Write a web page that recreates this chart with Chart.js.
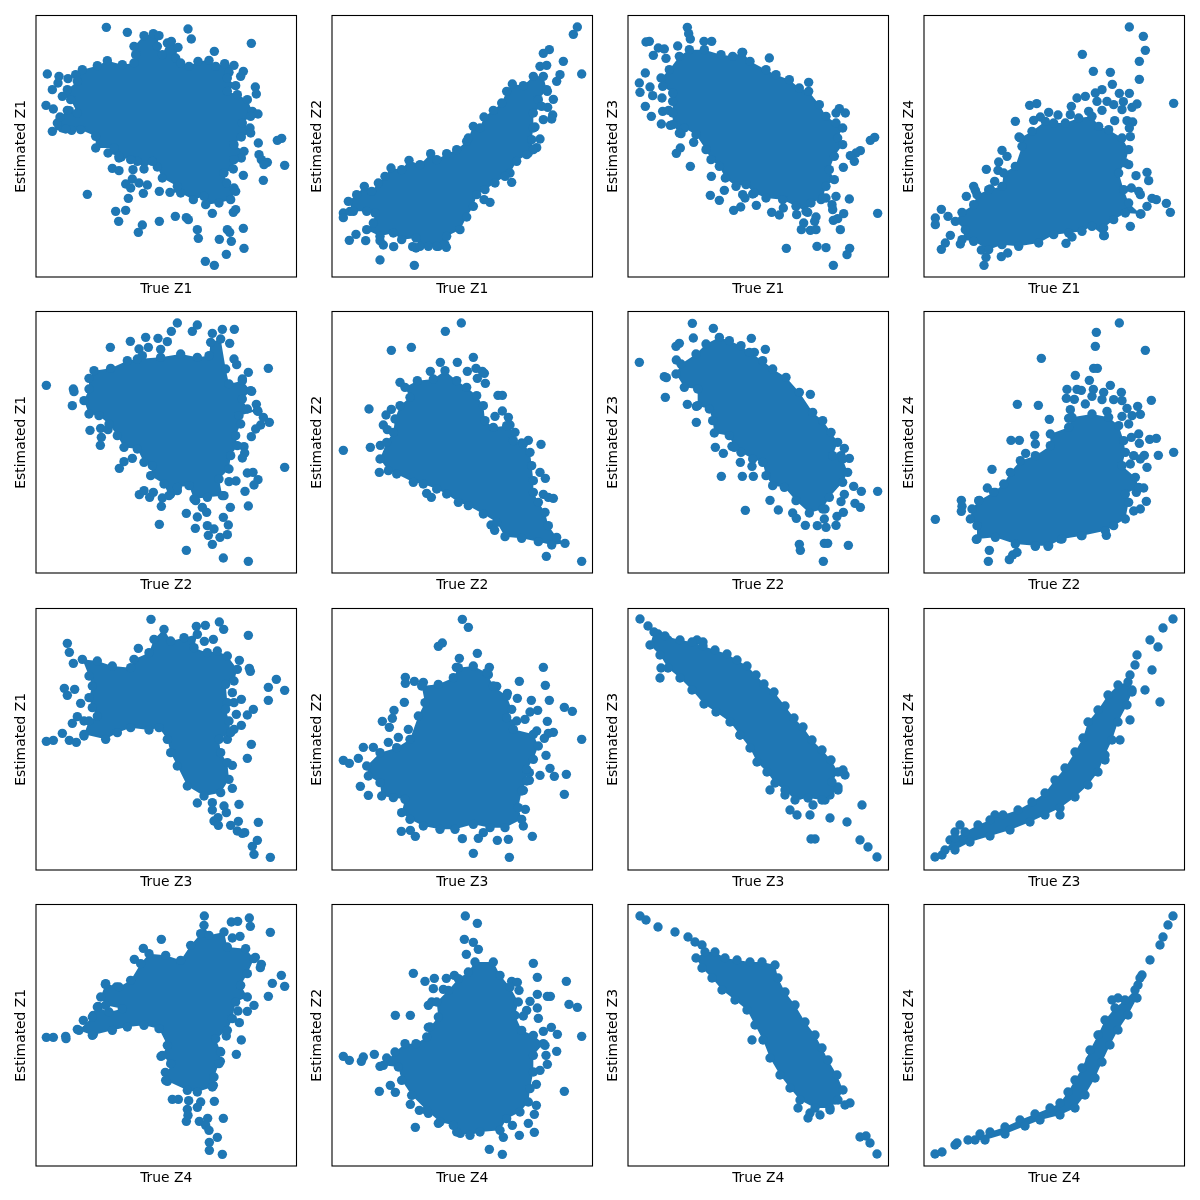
<!DOCTYPE html>
<html>
<head>
<meta charset="utf-8">
<title>True vs estimated Z</title>
<script src="https://cdn.jsdelivr.net/npm/chart.js@4/dist/chart.umd.min.js"></script>
<style>
  body { margin: 0; background: #fff; }
  #grid { position: relative; width: 1200px; height: 1200px; overflow: hidden; }
  #grid canvas { position: absolute; }
</style>
</head>
<body>
<div id="grid"></div>
<script>
// values in arbitrary units, y runs downwards.
// *Mass = boundary of the solid overlapped region (interior points can't be read one by one, it gets filled)
// *Loose = points standing apart from it
const trueLabels = ['True Z1', 'True Z2', 'True Z3', 'True Z4'];
const estLabels = ['Estimated Z1', 'Estimated Z2', 'Estimated Z3', 'Estimated Z4'];

const t1e1Mass = [[125,185],[145,170],[190,158],[220,143],[265,155],[300,150],[305,125],[300,100],[330,68],[358,62],[375,68],[370,100],[385,125],[400,90],[412,85],[432,103],[425,135],[440,150],[465,160],[492,145],[525,142],[545,160],[572,152],[600,157],[585,178],[580,195],[605,218],[580,235],[610,245],[640,260],[655,295],[672,303],[650,310],[625,330],[648,345],[650,360],[622,372],[600,395],[630,415],[622,435],[600,440],[598,468],[570,480],[578,510],[600,525],[605,535],[590,560],[555,570],[515,575],[510,550],[478,560],[440,540],[408,538],[430,520],[385,495],[370,462],[355,445],[330,468],[310,445],[290,440],[255,430],[222,420],[240,405],[185,405],[185,370],[140,350],[113,352],[95,348],[55,355],[70,330],[78,312],[100,292],[130,300],[110,260],[85,250],[100,230],[130,205]];
const t1e1Loose = [[217,43],[280,58],[462,48],[472,78],[541,115],[652,91],[40,183],[75,190],[72,210],[55,230],[102,197],[36,277],[58,288],[664,222],[667,243],[628,175],[620,190],[673,390],[743,376],[730,382],[675,425],[682,440],[700,448],[690,455],[752,457],[628,487],[688,502],[160,544],[255,435],[262,432],[235,466],[255,473],[297,470],[295,498],[275,513],[290,525],[315,510],[340,516],[328,541],[376,535],[283,556],[245,595],[275,592],[254,625],[325,636],[313,658],[376,625],[424,610],[457,614],[463,620],[490,650],[493,676],[535,601],[598,598],[605,590],[580,650],[587,658],[628,646],[556,679],[592,685],[630,706],[577,724],[514,745],[541,757],[106,293],[85,345]];

const t1e2Mass = [[55,565],[80,545],[103,520],[125,535],[145,510],[165,490],[183,465],[215,470],[237,442],[270,455],[302,422],[320,440],[350,422],[380,410],[410,385],[415,375],[430,340],[450,345],[462,312],[490,292],[515,270],[530,235],[547,213],[580,218],[610,190],[640,190],[650,230],[625,260],[635,280],[610,300],[610,345],[605,380],[610,410],[590,425],[560,445],[540,480],[525,490],[495,510],[465,530],[440,545],[430,580],[410,612],[390,650],[350,670],[345,695],[320,700],[295,700],[270,700],[258,675],[215,680],[190,660],[150,670],[110,650],[130,630],[135,600],[110,595],[70,595]];
const t1e2Loose = [[742,42],[730,64],[640,121],[658,110],[630,160],[650,157],[700,145],[755,183],[690,185],[680,205],[652,235],[670,259],[653,283],[668,306],[640,320],[665,318],[615,342],[630,378],[620,404],[595,420],[545,508],[480,568],[462,560],[58,682],[78,664],[107,683],[150,683],[160,696],[191,701],[248,701],[258,705],[349,703],[325,700],[150,741],[253,757],[40,600],[40,614],[60,595]];

const t1e3Mass = [[130,170],[160,130],[190,110],[235,110],[285,125],[320,130],[350,118],[372,145],[420,170],[450,185],[490,200],[520,225],[548,235],[580,275],[600,310],[630,330],[650,345],[635,375],[650,395],[625,430],[610,470],[625,500],[600,520],[590,555],[555,570],[540,595],[510,580],[470,560],[420,555],[385,540],[360,515],[330,520],[298,495],[280,460],[255,440],[240,410],[210,365],[175,345],[160,360],[140,335],[140,300],[140,265],[140,240],[110,220],[105,195]];
const t1e3Loose = [[184,43],[188,62],[193,78],[234,85],[257,85],[60,87],[70,85],[97,105],[115,108],[82,127],[120,136],[155,99],[430,135],[348,118],[58,180],[40,210],[72,222],[42,238],[80,248],[108,255],[58,280],[76,310],[106,333],[110,295],[128,292],[133,337],[165,362],[203,388],[163,405],[151,421],[193,460],[256,490],[253,547],[295,532],[280,562],[323,592],[344,582],[350,545],[357,555],[380,543],[391,577],[437,598],[460,606],[472,585],[512,605],[545,598],[570,612],[533,630],[526,650],[553,652],[570,650],[566,625],[618,575],[620,590],[622,622],[635,617],[653,602],[630,550],[670,558],[643,650],[755,601],[733,382],[746,373],[640,287],[630,300],[658,300],[703,413],[690,420],[673,428],[685,445],[652,463],[481,706],[573,700],[600,704],[671,706],[663,725],[622,757],[548,208],[585,560],[600,555]];

const t1e4Mass = [[100,625],[120,598],[155,575],[165,545],[200,530],[240,520],[245,480],[280,460],[300,400],[295,375],[330,355],[370,325],[395,330],[430,330],[470,315],[510,310],[530,340],[560,350],[600,375],[620,410],[610,450],[590,480],[605,530],[620,570],[655,603],[610,600],[575,620],[545,645],[545,668],[510,640],[480,655],[440,660],[395,665],[350,690],[290,700],[240,695],[200,710],[155,685],[120,680],[130,650]];
const t1e4Loose = [[622,42],[664,70],[670,112],[652,145],[481,124],[514,175],[565,178],[652,199],[571,214],[592,241],[622,241],[755,271],[540,230],[520,240],[490,250],[465,255],[448,280],[525,265],[555,265],[575,275],[604,266],[600,290],[630,283],[645,273],[540,292],[500,295],[445,305],[408,306],[380,298],[355,312],[335,322],[323,277],[344,272],[280,325],[578,323],[615,323],[632,327],[622,345],[625,371],[291,372],[240,412],[255,430],[230,447],[193,469],[228,472],[218,505],[155,520],[160,532],[133,550],[205,528],[58,589],[40,615],[78,610],[40,635],[85,667],[70,690],[58,709],[115,693],[178,711],[192,733],[186,757],[238,731],[257,720],[432,691],[450,672],[547,668],[625,640],[733,571],[745,598],[690,556],[703,560],[675,580],[655,545],[650,535],[680,503],[675,478],[642,488],[628,525],[620,455],[657,603]];

const t2e1Mass = [[150,275],[165,240],[165,208],[180,185],[230,178],[280,155],[310,150],[380,145],[440,135],[490,145],[525,140],[530,100],[560,90],[575,180],[585,225],[625,215],[650,245],[625,270],[640,300],[670,305],[615,320],[620,345],[605,380],[610,410],[590,440],[585,480],[555,510],[565,560],[520,565],[480,570],[465,530],[430,535],[405,560],[390,525],[350,500],[355,470],[330,460],[310,420],[270,415],[250,380],[225,345],[195,320],[165,315]];
const t2e1Loose = [[37,229],[118,240],[120,248],[115,290],[168,364],[200,358],[222,362],[202,385],[199,409],[229,115],[289,97],[315,120],[335,85],[372,88],[400,98],[412,67],[430,42],[475,67],[490,48],[343,115],[380,121],[325,140],[535,73],[565,61],[601,61],[587,103],[600,150],[608,167],[703,178],[643,190],[625,210],[653,247],[667,286],[672,307],[688,325],[706,340],[680,348],[665,360],[652,383],[630,413],[632,432],[625,447],[752,475],[640,492],[657,490],[672,512],[660,528],[606,516],[585,518],[633,547],[570,560],[589,595],[643,591],[505,595],[518,610],[490,624],[457,613],[376,646],[484,658],[520,650],[540,660],[523,679],[568,625],[583,648],[580,677],[558,685],[535,706],[457,724],[568,747],[643,757],[316,557],[330,545],[347,565],[358,550],[382,592],[385,567],[410,555],[430,545],[485,575],[295,448],[270,458],[256,478]];

const t2e2Mass = [[210,290],[240,265],[225,235],[262,215],[310,210],[345,185],[380,215],[410,235],[440,260],[460,290],[465,335],[490,355],[530,350],[555,370],[550,395],[580,405],[600,430],[605,470],[610,515],[610,550],[625,580],[645,610],[655,650],[680,685],[705,703],[665,708],[625,698],[575,688],[525,683],[500,640],[460,615],[415,590],[385,580],[350,555],[320,540],[280,525],[250,520],[200,495],[175,485],[150,450],[170,400],[190,370],[195,330]];
const t2e2Loose = [[394,42],[346,67],[184,124],[244,115],[331,160],[382,160],[430,145],[301,187],[412,187],[438,178],[457,187],[463,193],[442,208],[466,223],[210,220],[504,259],[517,259],[117,300],[184,301],[168,318],[160,348],[172,362],[40,424],[121,415],[151,409],[148,490],[290,553],[304,565],[517,306],[495,322],[535,325],[540,348],[633,406],[595,394],[575,402],[630,490],[646,508],[640,556],[655,565],[670,568],[483,648],[494,664],[649,742],[755,757]];

const t2e3Mass = [[150,195],[165,165],[210,135],[240,105],[280,85],[310,95],[345,110],[370,130],[410,155],[440,180],[480,205],[520,250],[560,310],[590,335],[615,370],[635,400],[620,440],[650,450],[665,490],[650,520],[610,565],[590,600],[550,612],[510,575],[475,535],[440,530],[420,500],[410,460],[380,450],[345,430],[325,415],[310,380],[265,372],[260,335],[250,300],[215,290],[215,240],[175,235]];
const t2e3Loose = [[199,43],[262,58],[202,87],[150,112],[160,103],[151,153],[376,88],[385,130],[418,121],[40,160],[115,203],[121,206],[118,265],[184,286],[211,292],[211,340],[268,415],[292,433],[318,412],[343,460],[378,472],[286,502],[349,502],[382,502],[432,574],[457,603],[358,604],[553,256],[645,440],[655,418],[670,448],[683,532],[706,547],[755,547],[655,556],[645,578],[687,583],[703,595],[652,610],[633,622],[597,600],[500,612],[511,628],[538,649],[574,650],[595,630],[600,655],[630,649],[520,706],[523,724],[595,703],[605,703],[667,709],[592,757]];

const t2e4Mass = [[145,630],[150,600],[170,575],[215,550],[245,525],[265,490],[295,455],[340,440],[385,410],[385,375],[440,355],[450,325],[510,315],[560,325],[590,350],[605,395],[610,430],[600,470],[640,505],[650,535],[610,555],[620,580],[610,630],[575,650],[550,665],[480,680],[420,690],[380,710],[340,710],[280,705],[220,685],[165,690],[165,650]];
const t2e4Loose = [[592,42],[523,70],[520,112],[670,124],[358,148],[515,178],[526,178],[460,199],[502,214],[565,229],[435,241],[465,241],[478,244],[514,241],[545,250],[598,250],[433,268],[457,271],[540,272],[510,262],[490,285],[575,272],[600,275],[688,274],[647,292],[615,298],[286,286],[349,289],[382,331],[445,302],[440,328],[555,307],[600,322],[630,320],[655,316],[620,345],[628,385],[650,375],[652,403],[683,391],[703,388],[338,379],[267,394],[292,394],[340,405],[311,433],[210,481],[196,537],[220,550],[118,574],[120,592],[118,607],[40,631],[172,574],[163,691],[202,724],[199,757],[262,752],[272,738],[285,730],[340,712],[378,712],[553,679],[755,430],[709,439],[667,439],[635,440],[655,450],[625,465],[675,475],[665,537],[643,550],[673,577],[655,600],[635,606],[612,578],[415,690],[478,680]];

const t3e1Mass = [[145,160],[190,165],[235,180],[290,185],[300,160],[345,140],[360,100],[390,70],[410,105],[450,95],[490,85],[480,125],[520,140],[550,135],[580,150],[610,190],[600,225],[575,235],[580,290],[575,310],[585,345],[590,380],[555,400],[560,440],[580,470],[585,520],[560,560],[510,570],[460,540],[430,480],[410,440],[400,400],[375,365],[345,372],[290,365],[250,380],[215,400],[150,385],[165,345],[190,330],[175,305],[165,275],[175,240],[165,210]];
const t3e1Loose = [[351,40],[487,61],[514,58],[556,48],[569,70],[643,88],[538,100],[511,106],[313,127],[100,112],[106,139],[118,172],[616,163],[646,187],[649,196],[727,220],[703,244],[752,253],[703,283],[595,260],[622,280],[600,290],[658,310],[640,327],[607,325],[622,358],[91,247],[100,268],[122,250],[140,292],[130,332],[115,352],[150,345],[85,382],[37,406],[58,403],[106,403],[127,409],[150,390],[652,415],[640,457],[595,478],[595,547],[615,595],[490,591],[535,590],[535,612],[570,600],[577,620],[552,635],[540,645],[553,658],[613,646],[590,658],[610,675],[632,680],[625,682],[673,649],[670,703],[655,721],[660,745],[709,754],[580,400],[600,370]];

const t3e2Mass = [[110,480],[150,440],[200,425],[240,400],[265,330],[285,290],[275,240],[325,235],[370,215],[385,185],[430,180],[470,200],[490,240],[530,270],[545,310],[530,335],[560,345],[550,370],[610,385],[625,420],[610,460],[590,490],[590,525],[575,555],[565,605],[575,640],[525,665],[480,665],[430,655],[375,670],[330,670],[280,660],[240,640],[215,620],[225,580],[190,575],[155,570],[150,530],[115,510]];
const t3e2Loose = [[397,40],[415,64],[325,121],[337,111],[442,142],[388,157],[379,184],[478,184],[475,206],[226,214],[226,232],[253,226],[280,229],[640,184],[568,226],[646,238],[500,241],[532,262],[562,277],[658,283],[604,283],[223,289],[192,313],[187,337],[157,346],[178,364],[703,304],[727,316],[623,313],[600,318],[585,340],[652,346],[205,394],[175,409],[235,370],[100,424],[130,424],[85,457],[40,463],[58,472],[670,379],[655,382],[643,397],[620,375],[755,400],[648,448],[660,487],[673,511],[709,505],[630,508],[598,500],[598,523],[91,541],[115,568],[580,553],[703,565],[586,610],[580,660],[607,691],[214,676],[241,673],[256,691],[397,698],[445,697],[460,680],[502,703],[535,700],[430,742],[538,754]];

const t3e3Mass = [[84,78],[117,90],[162,102],[198,108],[231,120],[267,132],[303,144],[333,162],[363,180],[390,207],[414,234],[444,258],[477,300],[504,336],[531,363],[558,402],[588,432],[615,462],[636,498],[618,528],[636,552],[588,582],[546,576],[507,582],[477,552],[447,531],[423,498],[393,468],[372,426],[342,387],[312,348],[270,318],[234,294],[198,252],[162,216],[126,186],[102,147],[72,117]];
const t3e3Loose = [[42,39],[66,60],[96,84],[126,102],[102,216],[105,186],[153,144],[213,102],[231,108],[342,387],[378,405],[432,552],[477,567],[522,567],[492,612],[513,627],[561,597],[567,699],[555,699],[636,543],[708,597],[657,507],[651,492],[612,636],[663,648],[702,702],[726,723],[753,753],[597,582],[552,627],[612,567]];

const t3e4Mass = [[69,732],[99,696],[129,678],[168,657],[204,642],[243,627],[288,612],[330,588],[369,561],[399,522],[429,486],[459,438],[483,396],[498,348],[528,312],[558,267],[588,237],[618,228],[630,258],[615,297],[588,348],[570,402],[549,447],[528,498],[498,537],[459,573],[414,606],[369,627],[324,648],[264,672],[204,690],[144,708],[99,732]];
const t3e4Loose = [[39,753],[60,747],[84,702],[99,678],[114,657],[219,627],[522,372],[624,207],[645,147],[639,177],[630,252],[669,252],[714,288],[690,192],[684,102],[708,123],[723,66],[753,39],[594,402],[624,342],[549,462],[519,492],[354,597],[414,627],[579,282]];

const t4e1Mass = [[200,285],[215,245],[255,255],[290,235],[320,185],[345,155],[395,160],[440,175],[470,130],[500,95],[510,70],[525,100],[570,90],[580,135],[635,140],[660,170],[640,215],[620,250],[640,285],[605,300],[595,350],[580,385],[545,410],[560,450],[555,485],[540,525],[535,555],[490,570],[460,565],[395,535],[410,485],[385,460],[400,430],[375,380],[330,370],[280,375],[235,385],[175,400],[135,385],[175,345],[190,315],[225,330],[265,320],[215,310]];
const t4e1Loose = [[511,42],[382,112],[328,139],[301,172],[592,60],[611,58],[646,48],[649,73],[709,91],[618,103],[595,108],[664,166],[682,187],[679,197],[742,220],[715,244],[752,253],[703,283],[660,310],[640,328],[612,327],[616,362],[577,402],[622,414],[607,457],[214,247],[247,255],[193,313],[178,340],[148,355],[130,382],[37,406],[58,406],[95,403],[96,410],[178,397],[381,463],[558,448],[559,478],[394,511],[400,538],[538,550],[415,592],[433,592],[541,598],[464,596],[500,600],[490,616],[460,622],[462,640],[457,658],[521,649],[496,658],[515,670],[525,685],[568,649],[550,706],[526,721],[526,745],[565,757]];

const t4e2Mass = [[195,450],[225,425],[258,425],[290,405],[300,375],[325,345],[320,300],[355,265],[385,230],[415,210],[435,180],[490,180],[510,220],[540,255],[565,300],[555,340],[575,385],[610,400],[640,425],[610,460],[610,510],[600,560],[595,600],[570,630],[530,650],[510,685],[450,690],[420,700],[380,690],[370,670],[330,660],[290,625],[245,580],[215,535],[205,495],[160,490]];
const t4e2Loose = [[406,42],[442,64],[403,112],[430,121],[445,142],[409,157],[610,184],[622,226],[709,238],[250,214],[285,238],[313,229],[349,229],[373,220],[310,260],[340,262],[545,238],[562,241],[567,265],[622,277],[652,283],[661,283],[600,298],[622,318],[625,349],[590,325],[580,342],[717,307],[742,316],[196,340],[241,340],[295,310],[305,300],[295,376],[664,376],[682,397],[755,403],[640,388],[645,430],[648,460],[680,448],[652,487],[630,505],[619,547],[40,463],[58,475],[100,465],[94,478],[133,457],[170,468],[150,493],[148,568],[181,550],[196,571],[703,568],[241,607],[268,625],[295,634],[325,664],[619,610],[613,637],[595,664],[613,691],[256,676],[391,694],[520,706],[547,670],[568,700],[478,742],[517,757]];

const t4e3Mass = [[237,150],[267,150],[297,168],[333,174],[372,180],[408,180],[447,189],[456,228],[477,270],[507,309],[537,360],[567,399],[588,438],[606,474],[633,519],[651,564],[636,594],[612,618],[567,618],[522,594],[492,558],[462,519],[432,468],[411,414],[387,369],[363,324],[327,294],[288,264],[258,228],[228,198],[210,168]];
const t4e3Loose = [[42,42],[60,54],[96,75],[147,90],[186,105],[207,120],[228,129],[258,204],[378,414],[516,618],[552,633],[582,639],[612,624],[657,609],[672,603],[702,705],[720,702],[732,723],[753,756],[546,648],[627,594]];

const t4e4Mass = [[159,714],[204,690],[249,675],[294,654],[339,636],[384,618],[414,603],[438,570],[459,534],[480,498],[504,444],[528,399],[549,354],[579,318],[609,294],[639,264],[654,228],[645,288],[618,339],[588,384],[564,429],[540,480],[519,528],[489,579],[459,618],[414,639],[354,654],[309,672],[249,696],[189,714]];
const t4e4Loose = [[39,756],[60,750],[99,729],[105,723],[138,714],[174,696],[534,399],[570,294],[588,288],[648,249],[660,219],[684,174],[714,129],[723,105],[738,69],[753,42],[504,474]];

const massByRow = [
    [t1e1Mass, t1e2Mass, t1e3Mass, t1e4Mass],
    [t2e1Mass, t2e2Mass, t2e3Mass, t2e4Mass],
    [t3e1Mass, t3e2Mass, t3e3Mass, t3e4Mass],
    [t4e1Mass, t4e2Mass, t4e3Mass, t4e4Mass]
];
const looseByRow = [
    [t1e1Loose, t1e2Loose, t1e3Loose, t1e4Loose],
    [t2e1Loose, t2e2Loose, t2e3Loose, t2e4Loose],
    [t3e1Loose, t3e2Loose, t3e3Loose, t3e4Loose],
    [t4e1Loose, t4e2Loose, t4e3Loose, t4e4Loose]
];

const BLUE = '#1f77b4';
const colLeft = [0, 296, 592, 888];
const rowTop = [0, 296, 593, 889];
const labelFont = { family: '"DejaVu Sans"', size: 13.89 };

const toXY = pts => pts.map(p => ({ x: p[0], y: p[1] }));

// matplotlib style box round the axes
const framePlugin = {
    id: 'frame',
    afterDraw(chart) {
        const a = chart.chartArea;
        const ctx = chart.ctx;
        ctx.save();
        ctx.strokeStyle = '#000';
        ctx.lineWidth = 1.1;
        ctx.strokeRect(a.left, a.top, a.right - a.left, a.bottom - a.top);
        ctx.restore();
    }
};

function makePanel(row, col) {
    const canvas = document.createElement('canvas');
    canvas.width = 300;
    canvas.height = 300;
    canvas.style.left = colLeft[col] + 'px';
    canvas.style.top = rowTop[row] + 'px';
    document.getElementById('grid').appendChild(canvas);

    new Chart(canvas, {
        type: 'scatter',
        data: {
            datasets: [
                {
                    data: toXY(massByRow[row][col]),
                    showLine: true,
                    fill: 'shape',
                    borderWidth: 0,
                    backgroundColor: BLUE,
                    borderColor: BLUE,
                    pointRadius: 4.7,
                    pointBorderWidth: 0,
                    pointBackgroundColor: BLUE
                },
                {
                    data: toXY(looseByRow[row][col]),
                    pointRadius: 4.7,
                    pointBorderWidth: 0,
                    pointBackgroundColor: BLUE
                }
            ]
        },
        options: {
            responsive: false,
            animation: false,
            devicePixelRatio: 1,
            // autoPadding would pull the right edge in by the point radius
            layout: { autoPadding: false, padding: { top: 15.5, right: 3.5, left: 0, bottom: 0 } },
            plugins: { legend: { display: false }, tooltip: { enabled: false } },
            scales: {
                x: {
                    type: 'linear',
                    min: 6,
                    max: 787.5,
                    ticks: { display: false },
                    grid: { display: false },
                    border: { display: false },
                    title: { display: true, text: trueLabels[row], color: '#000', font: labelFont, padding: { top: 0, bottom: 2.7 } },
                    afterFit: s => { s.height = 23; }
                },
                y: {
                    type: 'linear',
                    reverse: true,
                    min: 7.5,
                    max: 792,
                    ticks: { display: false },
                    grid: { display: false },
                    border: { display: false },
                    title: { display: true, text: estLabels[col], color: '#000', font: labelFont, padding: { top: 13.2, bottom: 0 } },
                    afterFit: s => { s.width = 36; }
                }
            }
        },
        plugins: [framePlugin]
    });
}

for (let r = 0; r < 4; r++) {
    for (let c = 0; c < 4; c++) {
        makePanel(r, c);
    }
}
</script>
</body>
</html>
